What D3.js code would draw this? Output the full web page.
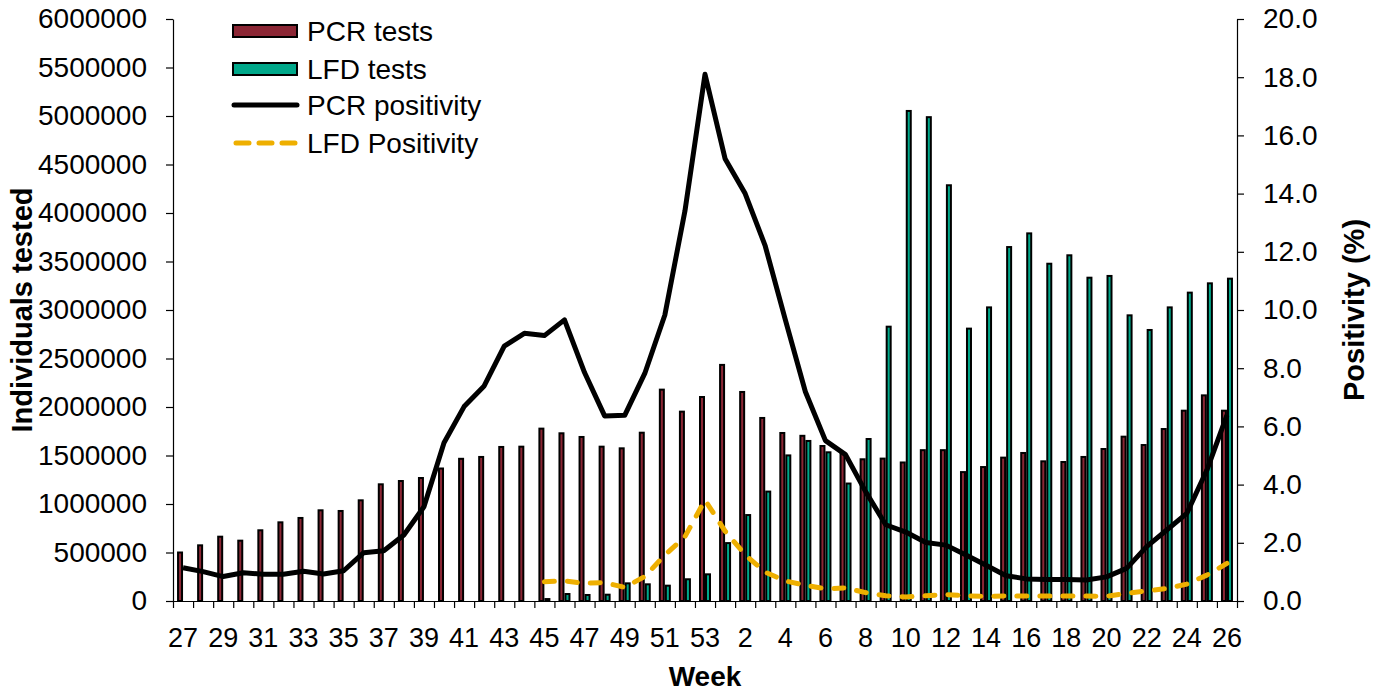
<!DOCTYPE html>
<html>
<head>
<meta charset="utf-8">
<script src="https://cdn.jsdelivr.net/npm/d3@7/dist/d3.min.js"></script>
<style>
  html, body { margin: 0; padding: 0; background: #fff; }
  svg { display: block; }
  text { font-family: "Liberation Sans", Arial, sans-serif; fill: #000; }
</style>
</head>
<body>
<svg id="chart" width="1379" height="693"></svg>
<script>
const weeks = [27,28,29,30,31,32,33,34,35,36,37,38,39,40,41,42,43,44,45,46,47,48,49,50,51,52,53,
               1,2,3,4,5,6,7,8,9,10,11,12,13,14,15,16,17,18,19,20,21,22,23,24,25,26];

const pcrTests = [500000,574000,663000,622000,729000,811000,856000,935000,928000,1038000,1203000,1237000,1268000,1366000,
  1466000,1485000,1588000,1591000,1777000,1729000,1691000,1591000,1574000,1735000,2179000,1952000,2103000,
  2434000,2155000,1887000,1732000,1703000,1598000,1526000,1461000,1468000,1428000,1555000,1555000,1329000,1381000,
  1478000,1526000,1440000,1433000,1485000,1567000,1694000,1608000,1773000,1962000,2120000,1962000];

const lfdTests = [null,null,null,null,null,null,null,null,null,null,null,null,null,null,null,null,null,null,
  20000,72000,62000,65000,182000,172000,158000,224000,275000,
  597000,886000,1128000,1501000,1650000,1533000,1211000,1670000,2828000,5052000,4988000,4286000,2808000,3027000,
  3649000,3790000,3477000,3564000,3333000,3351000,2945000,2794000,3027000,3179000,3275000,3323000];

const pcrPositivity = [1.14,1.01,0.84,0.97,0.92,0.92,1.02,0.93,1.04,1.66,1.73,2.27,3.24,5.44,6.68,7.39,8.76,9.2,9.12,9.66,
  7.85,6.36,6.38,7.82,9.83,13.4,18.1,15.2,14.0,12.2,9.67,7.19,5.51,5.03,3.76,2.62,2.37,2.01,1.92,1.58,1.23,
  0.87,0.76,0.74,0.74,0.72,0.83,1.12,1.87,2.44,3.01,4.5,6.39];

const lfdPositivity = [null,null,null,null,null,null,null,null,null,null,null,null,null,null,null,null,null,null,
  0.66,0.69,0.61,0.63,0.47,0.84,1.58,2.21,3.47,2.4,1.59,0.99,0.69,0.54,0.42,0.45,0.29,0.18,0.14,0.18,0.22,0.18,0.16,
  0.17,0.17,0.17,0.17,0.17,0.16,0.26,0.35,0.43,0.58,0.89,1.29];

const leftTicks = [0,500000,1000000,1500000,2000000,2500000,3000000,3500000,4000000,4500000,5000000,5500000,6000000];
const rightTicks = [0,2,4,6,8,10,12,14,16,18,20];
const seriesNames = ["PCR tests","LFD tests","PCR positivity","LFD Positivity"];

const COL_PCR = "#8B2634", COL_LFD = "#00A88A", COL_LFDPOS = "#EEAF00";

const svg = d3.select("#chart");
const L = 173, R = 1237, T = 19, B = 601;
const keys = weeks.map((w,i) => i);
const x = d3.scaleBand().domain(keys).range([L, R]).padding(0);
const xIdx = d3.scaleLinear().domain([0, weeks.length]).range([L, R]);
const yL = d3.scaleLinear().domain([0, 6000000]).range([B, T]);
const yR = d3.scaleLinear().domain([0, 20]).range([B, T]);
const cx = i => x(i) + x.bandwidth() / 2;

// bars
const barOuter = 6, sw = 2;
svg.append("g").selectAll("rect").data(keys).join("rect")
  .attr("x", i => cx(i) - barOuter + sw/2)
  .attr("width", barOuter - sw)
  .attr("y", i => yL(pcrTests[i]))
  .attr("height", i => B - yL(pcrTests[i]))
  .attr("fill", COL_PCR).attr("stroke", "#000").attr("stroke-width", sw);

svg.append("g").selectAll("rect").data(keys.filter(i => lfdTests[i] != null)).join("rect")
  .attr("x", i => cx(i) + sw/2)
  .attr("width", barOuter - sw)
  .attr("y", i => yL(lfdTests[i]))
  .attr("height", i => B - yL(lfdTests[i]))
  .attr("fill", COL_LFD).attr("stroke", "#000").attr("stroke-width", sw);

// lines
const linePcr = d3.line().x(i => cx(i)).y(i => yR(pcrPositivity[i]));
svg.append("path").attr("d", linePcr(keys))
  .attr("fill", "none").attr("stroke", "#000").attr("stroke-width", 5)
  .attr("stroke-linejoin", "round").attr("stroke-linecap", "butt");

const lineLfd = d3.line().defined(i => lfdPositivity[i] != null).x(i => cx(i)).y(i => yR(lfdPositivity[i]));
svg.append("path").attr("d", lineLfd(keys))
  .attr("fill", "none").attr("stroke", COL_LFDPOS).attr("stroke-width", 5)
  .attr("stroke-dasharray", "10,13").attr("stroke-linecap", "round").attr("stroke-linejoin", "round");

// axes
const gL = svg.append("g").attr("transform", `translate(${L},0)`)
  .call(d3.axisLeft(yL).tickValues(leftTicks).tickFormat(d3.format("d")).tickSize(7).tickSizeOuter(0).tickPadding(19));
gL.selectAll("text").style("font-size", "28px").attr("font-family", null);
const gR = svg.append("g").attr("transform", `translate(${R},0)`)
  .call(d3.axisRight(yR).tickValues(rightTicks).tickFormat(d3.format(".1f")).tickSize(7).tickSizeOuter(0).tickPadding(19));
gR.selectAll("text").style("font-size", "28px").attr("font-family", null);
const gB = svg.append("g").attr("transform", `translate(0,${B})`)
  .call(d3.axisBottom(xIdx).tickValues(d3.range(weeks.length + 1)).tickFormat("").tickSize(7).tickSizeOuter(0));
[gL, gR, gB].forEach(g => { g.selectAll("path,line").attr("stroke", "#000").attr("stroke-width", 1.2); });

svg.append("g").selectAll("text").data(keys.filter(i => i % 2 === 0)).join("text")
  .attr("x", i => cx(i)).attr("y", 647).attr("text-anchor", "middle")
  .style("font-size", "27px").text(i => weeks[i]);

// titles
svg.append("text").attr("x", 705).attr("y", 686).attr("text-anchor", "middle")
  .style("font-size", "28px").style("font-weight", "bold").text("Week");
svg.append("text").attr("transform", `translate(32,${(T+B)/2}) rotate(-90)`).attr("text-anchor", "middle")
  .style("font-size", "29px").style("font-weight", "bold").text("Individuals tested");
svg.append("text").attr("transform", `translate(1364,${(T+B)/2}) rotate(-90)`).attr("text-anchor", "middle")
  .style("font-size", "29px").style("font-weight", "bold").text("Positivity (%)");

// legend
const lg = svg.append("g");
const rowsY = [31, 69, 105, 143];
lg.append("rect").attr("x", 233).attr("y", rowsY[0]-6).attr("width", 64).attr("height", 12)
  .attr("fill", COL_PCR).attr("stroke", "#000").attr("stroke-width", 2);
lg.append("rect").attr("x", 233).attr("y", rowsY[1]-6).attr("width", 64).attr("height", 12)
  .attr("fill", COL_LFD).attr("stroke", "#000").attr("stroke-width", 2);
lg.append("line").attr("x1", 234).attr("x2", 297).attr("y1", rowsY[2]).attr("y2", rowsY[2])
  .attr("stroke", "#000").attr("stroke-width", 5).attr("stroke-linecap", "round");
lg.append("line").attr("x1", 236).attr("x2", 297).attr("y1", rowsY[3]).attr("y2", rowsY[3])
  .attr("stroke", COL_LFDPOS).attr("stroke-width", 5).attr("stroke-linecap", "round").attr("stroke-dasharray", "13,10");
lg.selectAll("text.lt").data(seriesNames).join("text").attr("class", "lt")
  .attr("x", 307).attr("y", (d, i) => rowsY[i] + 10).style("font-size", "28px").text(d => d);
</script>
</body>
</html>
